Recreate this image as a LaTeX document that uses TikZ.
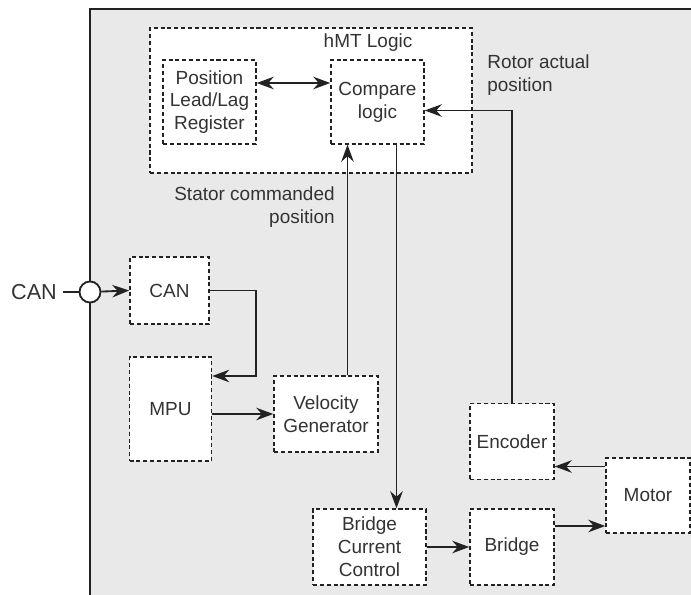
\documentclass[tikz,border=0pt]{standalone}
\usepackage{fontspec}
\setmainfont{Liberation Sans}
\usetikzlibrary{positioning, arrows.meta}

\definecolor{panelgray}{HTML}{E9E9E9}
\definecolor{linecol}{HTML}{222222}
\definecolor{textcol}{HTML}{333333}

\begin{document}
\begin{tikzpicture}[
    x=0.02cm, y=-0.02cm,
    font=\fontsize{10.8}{13}\selectfont,
    block/.style={rectangle, draw=linecol, dash pattern=on 2.3pt off 1.6pt, line width=0.85pt, fill=white, align=center, inner sep=0pt, text=textcol},
    arrow/.style={-{Stealth[length=3.4mm, width=2.5mm]}, line width=1.05pt, draw=linecol},
    biarrow/.style={{Stealth[length=3.4mm, width=2.5mm]}-{Stealth[length=3.4mm, width=2.5mm]}, line width=1.05pt, draw=linecol},
    link/.style={line width=1.05pt, draw=linecol},
    note/.style={inner sep=0pt, text=textcol},
    port/.style={circle, draw=linecol, line width=1.05pt, fill=white, minimum size=0.42cm, inner sep=0pt}
]
\useasboundingbox (0,0) rectangle (691,595);

% Controller panel
\fill[panelgray] (90,9) rectangle (691,595);
\draw[link] (90,595) -- (90,9) -- (691,9);

% hMT logic group
\node[block, minimum width=6.44cm, minimum height=2.9cm] (hmt) at (311,100.5) {};
\node[note] (hmtlabel) at (368,43) {hMT Logic};
\node[block, minimum width=1.86cm, minimum height=1.68cm] (pos) at (209.5,102) {Position\\Lead/Lag\\Register};
\node[block, minimum width=1.86cm, minimum height=1.68cm] (cmp) at (377.5,102) {Compare\\logic};

% Command side
\node[block, minimum width=1.58cm, minimum height=1.34cm] (can) at (169.5,290.5) {CAN};
\node[block, minimum width=1.64cm, minimum height=2.08cm] (mpu) at (170.5,409) {MPU};
\node[block, minimum width=2.08cm, minimum height=1.52cm] (vel) at (326,414) {Velocity\\Generator};

% Power side
\node[block, minimum width=2.26cm, minimum height=1.52cm] (bcc) at (369.5,547) {Bridge\\Current\\Control};
\node[block, minimum width=1.68cm, minimum height=1.52cm] (bridge) at (512,547) {Bridge};
\node[block, minimum width=1.68cm, minimum height=1.5cm] (motor) at (648,495.5) {Motor};
\node[block, minimum width=1.68cm, minimum height=1.52cm] (enc) at (512,441.5) {Encoder};

% External CAN port
\node[note, font=\fontsize{12.3}{14}\selectfont] (canext) at (34,292) {CAN};
\node[port] (canport) at (90,292) {};
\coordinate (canturn) at (256,290.5);

% Labels
\node[note, anchor=east, align=right] (statorlabel) at (335,207.5) {Stator commanded\\position};
\node[note, anchor=west, align=left] (rotorlabel) at (487,75) {Rotor actual\\position};

% Connectors
\draw[link] ([xshift=0.12cm]canext.east) -- (canport);
\draw[arrow] (canport) -- (can.west);
\draw[arrow] (can.east) -- (canturn) |- ([yshift=0.66cm]mpu.east);
\draw[arrow] (mpu.east |- vel.west) -- (vel.west);
\draw[arrow] ([xshift=0.43cm]vel.north) -- ([xshift=0.43cm]vel.north |- cmp.south);
\draw[biarrow] ([yshift=0.38cm]pos.east) -- ([yshift=0.38cm]cmp.west);
\draw[arrow] ([xshift=0.38cm]cmp.south) -- ([xshift=0.38cm]cmp.south |- bcc.north);
\draw[arrow] (bcc.east) -- (bridge.west);
\draw[arrow] ([yshift=0.42cm]bridge.east) -- ([yshift=0.42cm]bridge.east -| motor.west);
\draw[arrow] ([yshift=0.58cm]motor.west) -- ([yshift=0.58cm]motor.west -| enc.east);
\draw[arrow] (enc.north) |- ([yshift=-0.17cm]cmp.east);

\end{tikzpicture}
\end{document}
